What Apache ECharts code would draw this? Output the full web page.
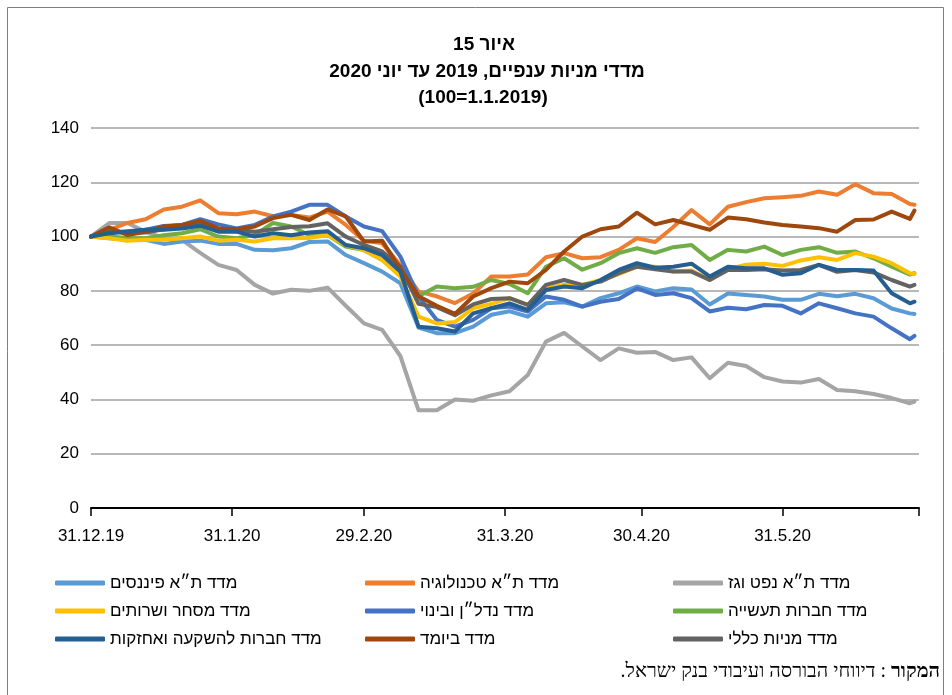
<!DOCTYPE html>
<html>
<head>
<meta charset="utf-8">
<script src="https://cdn.jsdelivr.net/npm/echarts@6/dist/echarts.min.js"></script>
<style>
  html, body { margin: 0; padding: 0; background: #fff; }
  #main { width: 952px; height: 695px; }
</style>
</head>
<body>
<div id="main"></div>
<script>
// days since 31.12.2019 at which the values were read
var days = [0, 4, 8, 12, 16, 20, 24, 28, 32, 36, 40, 44, 48, 52, 56, 60, 64, 68, 72, 76, 80, 84, 88, 92,
    96, 100, 104, 108, 112, 116, 120, 124, 128, 132, 136, 140, 144, 148, 152, 156, 160, 164, 168, 172, 176, 180, 181];

var tickDays = [0, 31, 60, 91, 121, 152, 182];
var tickLabels = ['31.12.19', '31.1.20', '29.2.20', '31.3.20', '30.4.20', '31.5.20', ''];

var finance = [100, 99.4, 99, 98.8, 97.3, 98.2, 98.5, 97.3, 97.3, 95.1, 95, 95.7, 98, 98.2, 93.2, 90.2, 87.1, 82.8, 66.5, 64.4, 64.4, 66.8, 71.2, 72.5,
    70.5, 75.4, 75.8, 74.2, 77.3, 79.1, 81.6, 79.8, 81, 80.5, 75, 79, 78.5, 77.9, 76.7, 76.7, 78.9, 78, 78.9, 77.3, 73.5, 71.7, 71.5];
var tech = [100, 102.5, 105, 106.4, 110, 111, 113.3, 108.6, 108.2, 109.2, 107.5, 108, 107, 109.2, 104.3, 98.5, 97.5, 89.5, 79.7, 78, 75.5, 79, 85.3, 85.3,
    86, 92.4, 93.9, 92, 92.4, 95.1, 99.4, 98, 103.5, 109.8, 104.5, 111, 112.7, 114.1, 114.5, 115, 116.6, 115.4, 119.3, 116, 115.7, 112, 111.7];
var oilGas = [100, 105, 105, 101.8, 99.4, 98.8, 94, 89.6, 87.7, 82.2, 79, 80.4, 80, 81.2, 74.5, 68, 65.6, 56, 36, 36, 40, 39.5, 41.5, 43,
    49, 61.3, 64.5, 59.5, 54.5, 58.8, 57.2, 57.5, 54.5, 55.5, 47.8, 53.5, 52.3, 48.2, 46.6, 46.2, 47.5, 43.5, 43, 42, 40.5, 38.6, 39.2];
var commerce = [100, 99.4, 98.5, 98.8, 98.8, 99.4, 100, 98.5, 98.8, 98.2, 99.4, 99.4, 99.5, 100.6, 96.9, 95, 91.4, 85.3, 70.5, 68, 68.5, 73.6, 75.2, 77.3,
    74.8, 81, 82.2, 82.2, 84, 86.2, 88.9, 88.9, 87.1, 87.5, 84, 88, 89.6, 90, 89.2, 91.2, 92.4, 91.4, 93.9, 92.6, 90.2, 86.5, 86.2];
var realEstate = [100, 101.5, 102, 102.5, 103.9, 104.3, 106.4, 104.5, 103, 104.3, 107.4, 109.2, 111.7, 111.7, 107.4, 103.7, 102, 92.6, 77.9, 69.3, 66.8, 69.3, 73.6, 74.2,
    72.4, 77.9, 76.7, 74.2, 76, 77, 80.9, 78.5, 79.1, 77.3, 72.4, 73.8, 73.2, 74.8, 74.5, 71.7, 75.4, 73.6, 71.7, 70.5, 66.2, 62.2, 63.4];
var industry = [100, 100, 99.5, 99.4, 100.5, 101.2, 102.7, 100, 99.4, 100.6, 105, 103.7, 100.6, 100.6, 96.3, 95, 91.4, 86, 78, 81.6, 81, 81.5, 84, 82.5,
    79.1, 88.9, 92, 87.8, 90.2, 93.9, 95.7, 94, 96.1, 96.9, 91.4, 95.1, 94.5, 96.3, 93.2, 95.1, 96.1, 94, 94.5, 92, 88.9, 86, 86.5];
var investment = [100, 101.2, 101.8, 102.5, 102.5, 103, 104, 101.8, 101.8, 100, 101.2, 100.5, 101.5, 102, 96.9, 95.7, 93.2, 87.1, 66.8, 66.2, 65, 71.7, 73.6, 75.4,
    73, 80.3, 81.6, 81, 84, 87.7, 90.2, 88.5, 88.9, 90, 85.3, 88.9, 88.3, 88.3, 85.9, 86.5, 89.6, 87.7, 87.7, 87.5, 79.1, 75.4, 76];
var bank = [100, 103.4, 100.6, 101.8, 103.7, 104.3, 105.8, 103, 102.7, 103.7, 106.8, 108, 106.1, 110, 107.4, 98.2, 98.5, 88, 78, 74.5, 71.5, 77.9, 81, 83.4,
    82.8, 87.7, 94.5, 100, 102.7, 103.7, 108.8, 104.5, 106.1, 104.3, 102.5, 107, 106.4, 105.2, 104.3, 103.7, 103.1, 101.8, 106.1, 106.3, 109.2, 106.5, 109.6];
var general = [100, 101.8, 101.5, 101.5, 102.7, 103.7, 104.9, 102.7, 102.5, 101.8, 102.7, 103.5, 103.8, 104.9, 100, 96.9, 94.5, 89, 75.2, 74, 71, 75, 77, 77.3,
    74.8, 82.2, 84, 82.2, 83.4, 86.5, 88.9, 88, 87.1, 87.1, 84, 87.7, 87.7, 88, 87.5, 87.7, 89.6, 87, 87.7, 86.8, 84, 81.6, 82.2];

var seriesList = [
    { name: 'מדד ת״א נפט וגז', data: oilGas, color: '#A5A5A5' },
    { name: 'מדד ת״א טכנולוגיה', data: tech, color: '#ED7D31' },
    { name: 'מדד ת״א פיננסים', data: finance, color: '#5B9BD5' },
    { name: 'מדד חברות תעשייה', data: industry, color: '#70AD47' },
    { name: 'מדד נדל״ן ובינוי', data: realEstate, color: '#4472C4' },
    { name: 'מדד מסחר ושרותים', data: commerce, color: '#FFC000' },
    { name: 'מדד מניות כללי', data: general, color: '#636363' },
    { name: 'מדד ביומד', data: bank, color: '#9E480E' },
    { name: 'מדד חברות להשקעה ואחזקות', data: investment, color: '#255E91' }
];

// legend columns, left to right
var legendCols = [
    ['מדד ת״א פיננסים', 'מדד מסחר ושרותים', 'מדד חברות להשקעה ואחזקות'],
    ['מדד ת״א טכנולוגיה', 'מדד נדל״ן ובינוי', 'מדד ביומד'],
    ['מדד ת״א נפט וגז', 'מדד חברות תעשייה', 'מדד מניות כללי']
];
var legendLeft = [50, 360, 668];

var font = "'Liberation Sans', 'DejaVu Sans', sans-serif";
var narrow = "'Liberation Sans Narrow', 'Liberation Sans', sans-serif";

var myChart = echarts.init(document.getElementById('main'));

var series = seriesList.map(function (s) {
    return {
        name: s.name,
        type: 'line',
        data: days.map(function (d, i) { return [d, s.data[i]]; }),
        showSymbol: false,
        symbol: 'none',
        lineStyle: { width: 4, color: s.color, join: 'round', cap: 'round' },
        itemStyle: { color: s.color },
        animation: false
    };
});

var legends = legendCols.map(function (col, i) {
    return {
        orient: 'vertical',
        left: legendLeft[i],
        top: 568,
        data: col,
        icon: 'roundRect',
        itemWidth: 50,
        itemHeight: 5,
        itemGap: 8,
        selectedMode: false,
        textStyle: { fontFamily: font, fontSize: 17, color: '#000', lineHeight: 20 }
    };
});

option = {
    backgroundColor: '#fff',
    animation: false,
    textStyle: { fontFamily: font },
    legend: legends,
    grid: { left: 91, right: 33, top: 128, bottom: 187, containLabel: false },
    xAxis: {
        type: 'value',
        min: 0,
        max: 182,
        axisLine: { show: true, lineStyle: { color: '#000', width: 2 } },
        axisTick: { show: true, length: 8, customValues: tickDays, lineStyle: { color: '#000', width: 1.5 } },
        axisLabel: {
            customValues: tickDays.slice(0, 6),
            margin: 20,
            fontFamily: narrow,
            fontSize: 17,
            color: '#000',
            formatter: function (v) {
                var k = tickDays.indexOf(v);
                return k >= 0 ? tickLabels[k] : '';
            }
        },
        splitLine: { show: false }
    },
    yAxis: {
        type: 'value',
        min: 0,
        max: 140,
        interval: 20,
        axisLine: { show: false },
        axisTick: { show: false },
        axisLabel: { fontFamily: narrow, fontSize: 17, color: '#000', margin: 12 },
        splitLine: { lineStyle: { color: '#A0A0A0', width: 1.5 } }
    },
    graphic: [
        { type: 'rect', shape: { x: 7.5, y: 7.5, width: 936, height: 700 }, style: { fill: null, stroke: '#7F7F7F', lineWidth: 1 }, silent: true },
        { type: 'text', x: 484, y: 45, style: { text: 'איור 15', font: 'bold 19px ' + font, fill: '#000', align: 'center', verticalAlign: 'middle' } },
        { type: 'text', x: 487, y: 72, style: { text: 'מדדי מניות ענפיים, 2019 עד יוני 2020', font: 'bold 19px ' + font, fill: '#000', align: 'center', verticalAlign: 'middle' } },
        { type: 'text', x: 483, y: 98, style: { text: '(100=1.1.2019)', font: 'bold 19px ' + font, fill: '#000', align: 'center', verticalAlign: 'middle' } },
        {
            type: 'text', x: 940, y: 672,
            style: {
                text: '{n|דיווחי הבורסה ועיבודי בנק ישראל.\u200F}{n| : }{b|המקור}',
                align: 'right',
                verticalAlign: 'middle',
                rich: {
                    n: { fontFamily: "'Liberation Serif', serif", fontSize: 20, fill: '#000', color: '#000' },
                    b: { fontFamily: "'Liberation Serif', serif", fontSize: 20, fontWeight: 'bold', fill: '#000', color: '#000' }
                }
            }
        }
    ],
    series: series
};

myChart.setOption(option);
</script>
</body>
</html>
